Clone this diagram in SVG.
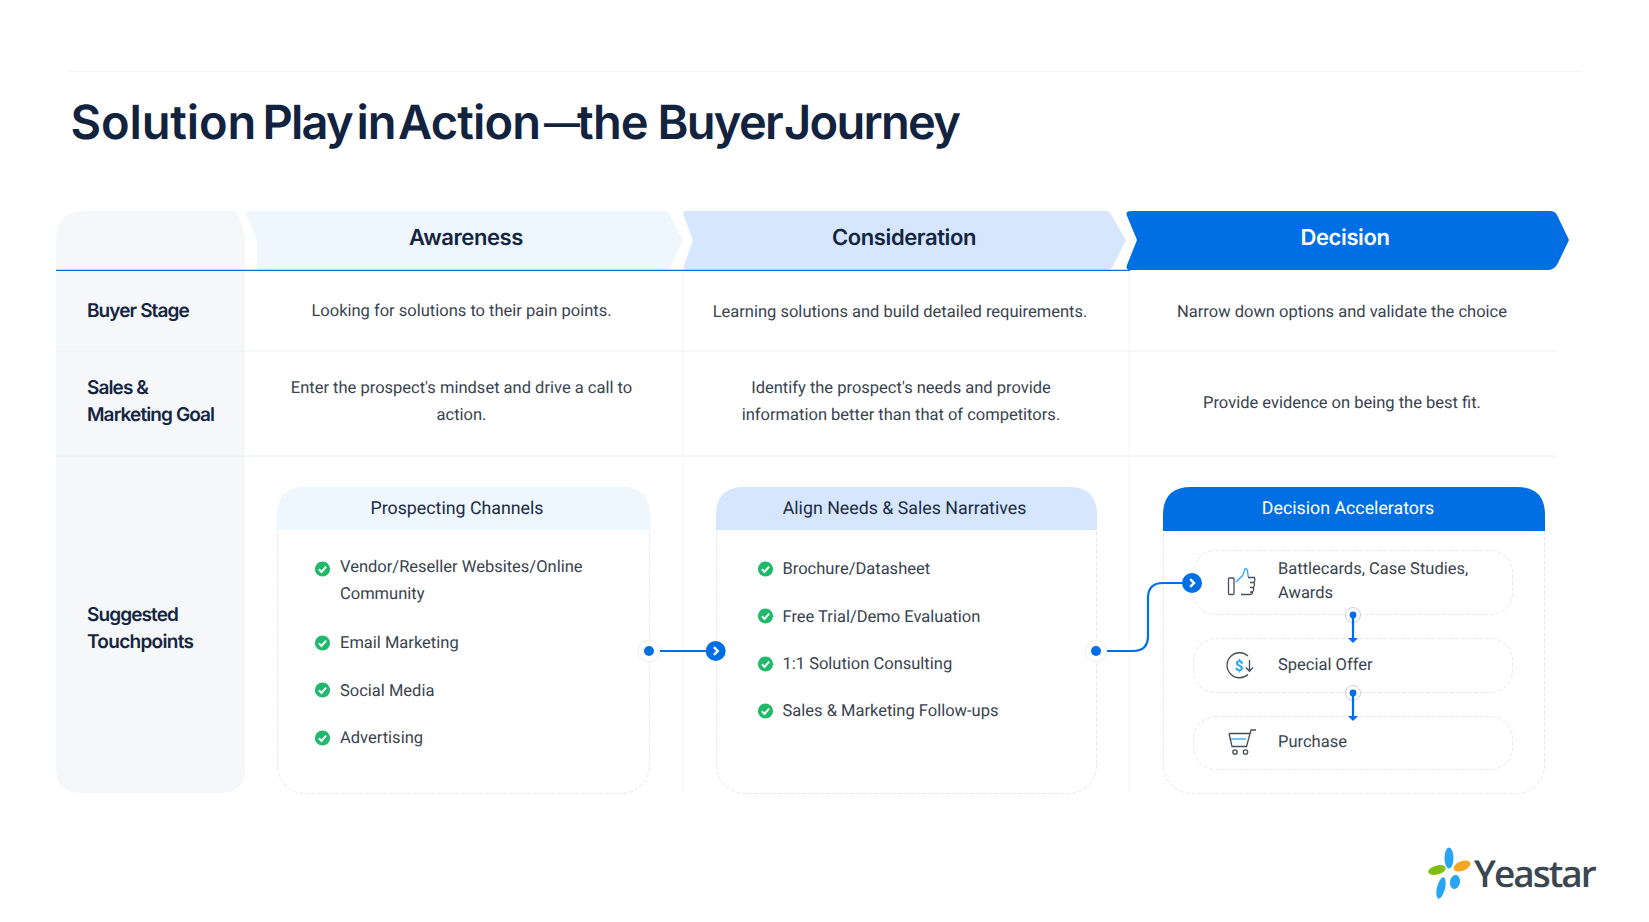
<svg xmlns="http://www.w3.org/2000/svg" width="1649" height="922" viewBox="0 0 1649 922">
<style>
text{font-family:Roboto,"Liberation Sans",sans-serif;text-rendering:geometricPrecision}
.b{font-size:16.500px;fill:#38434f}
.c{text-anchor:middle}
.h{font-family:Inter,"Liberation Sans",sans-serif;font-size:22px;font-weight:600;text-anchor:middle;letter-spacing:-.4px}
.r{font-family:Inter,"Liberation Sans",sans-serif;font-size:19px;font-weight:600;fill:#142542;letter-spacing:-.9px}
.ch{font-size:17.800px;text-anchor:middle;fill:#1d2c44}
.g{fill:none;stroke:#eef0f3;stroke-width:1}
.v{fill:none;stroke:#f4f5f7;stroke-width:1}
.d{fill:#fff;stroke:#e6e8ec;stroke-width:1;stroke-dasharray:4 2}
.cl{fill:none;stroke:#006fe3;stroke-width:2.200}
.ic{fill:none;stroke:#4a4f57;stroke-width:1.300}
.ib{fill:none;stroke:#25a5f2;stroke-width:1.300}
</style>
<defs>
<g id="chk"><circle r="7.600" fill="#1fb96a"/><path d="M-3.600 .2L-1 2.900L3.600-2.400" fill="none" stroke="#fff" stroke-width="2"/></g>
<g id="arr"><circle r="10" fill="#006fe3"/><path d="M-1.800-3.800L2 0L-1.800 3.800" fill="none" stroke="#fff" stroke-width="2.400"/></g>
<g id="src"><circle r="11" fill="#fff" stroke="#eceef1"/><circle r="5" fill="#006fe3"/></g>
<g id="ssrc"><circle r="7.500" fill="#fff" stroke="#c9ced6" stroke-width="1"/><circle r="3.400" fill="#006fe3"/></g>
</defs>
<rect width="1649" height="922" fill="#fff"/>
<path d="M70 71.500H1582" class="v"/>
<text id="title" y="138.500" font-size="47" font-weight="600" fill="#122340" style="font-family:Inter,'Liberation Sans',sans-serif;letter-spacing:-1px"><tspan x="70.500" style="letter-spacing:-.1px">Solution</tspan> <tspan x="262.500" style="letter-spacing:-1.800px">Play</tspan> <tspan x="356.500">in</tspan> <tspan x="398" style="letter-spacing:-.8px">Action</tspan><tspan x="544" font-size="36" dy="-3">—</tspan><tspan x="577" dy="3" style="letter-spacing:-.8px">the</tspan> <tspan x="657.500" style="letter-spacing:-1.700px">Buyer</tspan> <tspan x="784" style="letter-spacing:-1.700px">Journey</tspan></text>

<g id="row-col">
<path d="M56 768V240Q56 211 85 211H230Q237 211 239 217L245 236V768Q245 793 220 793H81Q56 793 56 768Z" fill="#f5f7f9"/>
</g>

<g id="grid">
<path d="M56 351H1557M56 456H1557" class="g"/>
<path d="M683 270V793M1129 270V793" class="v"/>
</g>

<g id="stage-awareness"><path d="M250 211H663Q668 211 670 216L683 240L671 266Q669 270 664 270H257V240L247 216Q245 211 250 211Z" fill="#eef6fe"/><text x="466" y="245" class="h" fill="#142542">Awareness</text></g>
<g id="stage-consideration"><path d="M687 211H1105Q1110 211 1112 216L1126 240L1113 266Q1111 270 1106 270H687Q682 270 684 265L693 240L684 216Q682 211 687 211Z" fill="#d6e7fd"/><text x="904" y="245" class="h" fill="#142542">Consideration</text></g>
<g id="stage-decision"><path d="M1131 211H1550Q1555 211 1557 215L1569 240L1558 263Q1555 269 1549 270H1131Q1125 270 1127 265L1137 240L1127 216Q1125 211 1131 211Z" fill="#006fe3"/><text x="1345" y="245" class="h" fill="#fff">Decision</text></g>
<path d="M56 270.300H1130" stroke="#006fe3" stroke-width="1.200" fill="none"/>

<text class="r" x="87" y="317">Buyer Stage</text>
<text class="r" x="87" y="394">Sales &amp;</text>
<text class="r" x="87" y="421">Marketing Goal</text>
<text class="r" x="87" y="620.500">Suggested</text>
<text class="r" x="87" y="647.500" style="letter-spacing:-.7px">Touchpoints</text>

<text class="b c" x="461.500" y="316">Looking for solutions to their pain points.</text>
<text class="b c" x="900" y="317">Learning solutions and build detailed requirements.</text>
<text class="b c" x="1342" y="317">Narrow down options and validate the choice</text>
<text class="b c" x="461.500" y="393">Enter the prospect's mindset and drive a call to</text>
<text class="b c" x="461.500" y="420">action.</text>
<text class="b c" x="901" y="393">Identify the prospect's needs and provide</text>
<text class="b c" x="901" y="420">information better than that of competitors.</text>
<text class="b c" x="1342" y="408">Provide evidence on being the best fit.</text>

<g id="card-prospecting">
<rect x="277.500" y="487.500" width="372" height="306" rx="28" class="d"/>
<path d="M277 530V515Q277 487 305 487H622Q650 487 650 515V530Z" fill="#eef6fe"/>
<text class="ch" x="457" y="514">Prospecting Channels</text>
<use href="#chk" x="322.500" y="569"/><text class="b" x="340" y="572">Vendor/Reseller Websites/Online</text><text class="b" x="340" y="599">Community</text>
<use href="#chk" x="322.500" y="643"/><text class="b" x="340" y="648">Email Marketing</text>
<use href="#chk" x="322.500" y="690"/><text class="b" x="340" y="696">Social Media</text>
<use href="#chk" x="322.500" y="738"/><text class="b" x="340" y="743">Advertising</text>
</g>
<g id="card-align">
<rect x="716.500" y="487.500" width="380" height="306" rx="28" class="d"/>
<path d="M716 530V515Q716 487 744 487H1069Q1097 487 1097 515V530Z" fill="#d6e7fd"/>
<text class="ch" x="904.500" y="514">Align Needs &amp; Sales Narratives</text>
<use href="#chk" x="765.500" y="569"/><text class="b" x="782.500" y="574">Brochure/Datasheet</text>
<use href="#chk" x="765.500" y="616"/><text class="b" x="782.500" y="622">Free Trial/Demo Evaluation</text>
<use href="#chk" x="765.500" y="664"/><text class="b" x="782.500" y="669">1:1 Solution Consulting</text>
<use href="#chk" x="765.500" y="711"/><text class="b" x="782.500" y="716">Sales &amp; Marketing Follow-ups</text>
</g>
<g id="card-decision">
<rect x="1163.500" y="487.500" width="381" height="306" rx="28" class="d"/>
<path d="M1163 531V515Q1163 487 1191 487H1517Q1545 487 1545 515V531Z" fill="#006fe3"/>
<text class="ch" x="1348" y="514" style="fill:#fff">Decision Accelerators</text>
</g>
<g id="item-battlecards">
<rect x="1193.500" y="550.500" width="319" height="64" rx="22" class="d"/>
<rect x="1228.500" y="578" width="5.500" height="16.500" rx="1" class="ic"/>
<path d="M1236 582L1242.500 575.500Q1244 573 1244.500 569.500Q1246.500 567.500 1247.500 571L1248.300 577" class="ib"/>
<path d="M1248 577.500H1254.500Q1255.500 580 1254 582.500H1250M1254 582.500Q1255.300 585 1253.500 587.500H1250M1253.500 587.500Q1254.300 590 1252.500 592H1250M1252.500 592Q1252.500 594.500 1250 594.500H1241" class="ic"/>
<text class="b" x="1278" y="574">Battlecards, Case Studies,</text><text class="b" x="1278" y="598">Awards</text>
</g>
<g id="item-offer">
<rect x="1193.500" y="638.500" width="319" height="54" rx="22" class="d"/>
<path d="M1248 656A12.500 12.500 0 1 0 1248 674.500" class="ic"/>
<path d="M1249.500 660V671M1246 667.500L1249.500 671.300L1253 667.500" class="ic"/>
<text x="1239" y="670.500" font-size="15" font-weight="700" fill="#25a5f2" text-anchor="middle">$</text>
<text class="b" x="1278" y="670">Special Offer</text>
</g>
<g id="item-purchase">
<rect x="1193.500" y="716.500" width="319" height="53" rx="22" class="d"/>
<path d="M1229 733.500H1250M1229 733.500L1232 746.500H1246.500L1251 730H1256" class="ic"/>
<path d="M1231 739H1246" class="ib"/>
<circle cx="1235" cy="752" r="2.200" class="ic"/><circle cx="1245.500" cy="752" r="2.200" class="ic"/>
<text class="b" x="1278" y="747">Purchase</text>
</g>

<g id="connectors">
<use href="#src" x="649" y="651"/>
<path d="M660 651H706" class="cl"/>
<use href="#arr" x="715.700" y="651"/>
<use href="#src" x="1096" y="651"/>
<path d="M1107 651H1133Q1148 651 1148 636V598Q1148 583 1163 583H1184" class="cl"/>
<use href="#arr" x="1192" y="583"/>
<use href="#ssrc" x="1353" y="615"/>
<path d="M1353 615V641" class="cl"/><path d="M1348 638L1353 643L1358 638Z" fill="#006fe3"/>
<use href="#ssrc" x="1353" y="693"/>
<path d="M1353 693V719" class="cl"/><path d="M1348 716L1353 721L1358 716Z" fill="#006fe3"/>
</g>

<g id="logo">
<ellipse cx="1449" cy="858" rx="4.500" ry="10.500" fill="#25a5f2"/>
<ellipse cx="1462" cy="866" rx="9" ry="4.800" transform="rotate(-22 1462 866)" fill="#f7a823"/>
<ellipse cx="1437" cy="870" rx="9" ry="4.500" transform="rotate(-14 1437 870)" fill="#7cc012"/>
<ellipse cx="1441" cy="888" rx="4" ry="11" transform="rotate(14 1441 888)" fill="#25a5f2"/>
<ellipse cx="1455" cy="882" rx="5" ry="7" transform="rotate(10 1455 882)" fill="#25a5f2"/>
<text x="1474" y="887" font-size="37" font-weight="600" fill="#3a4750" style="font-family:'Open Sans','Liberation Sans',sans-serif;letter-spacing:-2px">Yeastar</text>
</g>
</svg>
